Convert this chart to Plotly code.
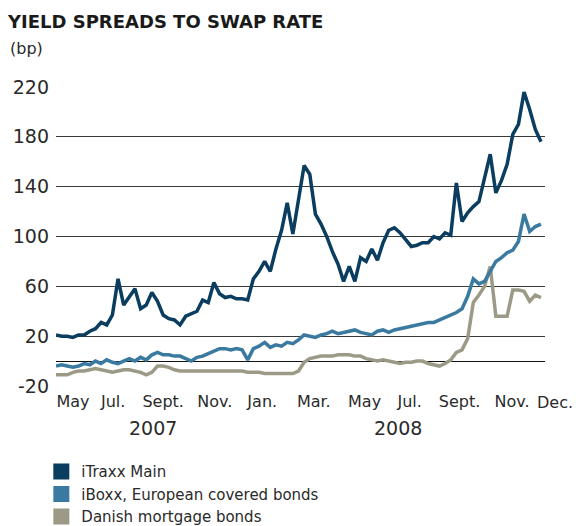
import pandas as pd
import plotly.graph_objects as go

# Weekly observation dates (Monday), late April 2007 to mid-December 2008
DATES = pd.date_range("2007-04-23", periods=87, freq="7D")

ITRAXX = [21, 20, 20, 19, 21, 21, 24, 26, 31, 29, 37, 66, 45, 52, 58, 42, 45, 55, 48, 37,
          34, 33, 29, 36, 38, 40, 49, 47, 63, 54, 51, 52, 50, 50, 49, 66, 72, 80, 72, 90,
          105, 127, 102, 130, 157, 150, 118, 110, 100, 88, 78, 64, 76, 64, 83, 80, 90, 81, 95, 105,
          107, 103, 97, 92, 93, 95, 95, 100, 98, 103, 101, 143, 112, 119, 124, 128, 147, 166, 135, 145,
          158, 182, 190, 216, 202, 186, 176]

IBOXX = [-4, -3, -4, -5, -4, -2, -3, 0, -2, 1, -1, -2, 0, 2, 0, 3, 1, 5, 7, 5,
         5, 4, 4, 2, 0, 3, 4, 6, 8, 10, 10, 9, 10, 9, 1, 10, 12, 15, 11, 13,
         12, 15, 14, 17, 21, 20, 19, 21, 22, 24, 22, 23, 24, 25, 23, 22, 21, 24, 25, 23,
         25, 26, 27, 28, 29, 30, 31, 31, 33, 35, 37, 39, 42, 52, 66, 62, 64, 72, 80, 83,
         87, 89, 96, 118, 104, 108, 110]

DANISH = [-11, -11, -11, -9, -8, -8, -7, -6, -7, -8, -9, -8, -7, -7, -8, -9, -11, -9, -4, -4,
          -5, -7, -8, -8, -8, -8, -8, -8, -8, -8, -8, -8, -8, -8, -9, -9, -9, -10, -10, -10,
          -10, -10, -10, -8, -1, 2, 3, 4, 4, 4, 5, 5, 5, 4, 4, 2, 1, 0, 1, 0,
          -1, -2, -1, -1, 0, 0, -2, -3, -4, -2, 1, 7, 9, 18, 47, 53, 60, 76, 36, 36,
          36, 57, 57, 56, 48, 53, 51]

SERIES = ["iTraxx Main", "iBoxx, European covered bonds", "Danish mortgage bonds"]
COLORS = ["#0A3D5F", "#3B7AA0", "#9C9A86"]

TICK_DATES = ["2007-05-14", "2007-07-03", "2007-09-03", "2007-11-06", "2008-01-04",
              "2008-03-08", "2008-05-10", "2008-07-05", "2008-09-05", "2008-11-09"]
TICK_TEXT = ["May", "Jul.", "Sept.", "Nov.", "Jan.", "Mar.", "May", "Jul.", "Sept.", "Nov."]
YEAR_DATES = ["2007-08-21", "2008-06-20"]
YEAR_TEXT = ["2007", "2008"]
Y_TICKS = [-20, 20, 60, 100, 140, 180, 220]
Y_TEXT = ["-20", "20", "60", "100", "140", "180", "220"]

FONT = "DejaVu Sans"
TXT = "#2a2a2a"

fig = go.Figure()
# Draw order: Danish bottom, iBoxx, iTraxx on top
for name, vals, col in list(zip(SERIES, [ITRAXX, IBOXX, DANISH], COLORS))[::-1]:
    fig.add_trace(go.Scatter(x=DATES, y=vals, mode="lines", name=name,
                             line=dict(color=col, width=3.5), showlegend=False))
for name, col in zip(SERIES, COLORS):
    fig.add_trace(go.Scatter(x=[None], y=[None], mode="markers", name=name,
                             marker=dict(symbol="square", size=16, color=col)))

fig.update_layout(
    width=576, height=526,
    margin=dict(l=56, r=31, t=87, b=140, autoexpand=False),
    paper_bgcolor="white", plot_bgcolor="white",
    font=dict(family=FONT, size=16, color=TXT),
    title=dict(text="YIELD SPREADS TO SWAP RATE", xref="container", yref="container",
               x=8 / 576, xanchor="left", y=1 - 22 / 526, yanchor="middle",
               font=dict(family=FONT, size=18, color="#1a1a1a", weight="bold")),
    legend=dict(x=-0.03, xanchor="left", y=-0.232, yanchor="top",
                font=dict(family=FONT, size=15, color=TXT),
                bgcolor="rgba(0,0,0,0)", itemwidth=30, tracegroupgap=0),
    showlegend=True,
)
fig.update_xaxes(range=["2007-04-23", "2008-12-20"], tickvals=TICK_DATES, ticktext=TICK_TEXT,
                 showgrid=False, showline=False, zeroline=False, ticks="",
                 tickfont=dict(family=FONT, size=16, color=TXT), ticklabelstandoff=4)
fig.update_yaxes(range=[-20, 220], tickvals=Y_TICKS, ticktext=Y_TEXT, showgrid=True,
                 gridcolor="#3a3a3a", gridwidth=1, zeroline=True, zerolinecolor="#111111",
                 zerolinewidth=1, showline=False, ticks="",
                 tickfont=dict(family=FONT, size=19, color=TXT), ticklabelstandoff=6)

ann = []
for d, t in zip(YEAR_DATES, YEAR_TEXT):
    ann.append(dict(x=d, xref="x", y=-0.14, yref="paper", text=t, showarrow=False,
                    font=dict(family=FONT, size=19, color=TXT), xanchor="center", yanchor="middle"))
ann.append(dict(x=(555 - 56) / 489, xref="paper", y=-0.054, yref="paper", text="Dec.",
                showarrow=False, font=dict(family=FONT, size=16, color=TXT),
                xanchor="center", yanchor="middle"))
ann.append(dict(x=(8 - 56) / 489, xref="paper", y=(386 - 48) / 299, yref="paper", text="(bp)",
                showarrow=False, font=dict(family=FONT, size=16, color=TXT),
                xanchor="left", yanchor="middle"))
fig.update_layout(annotations=ann)

fig.write_html("out.html")
